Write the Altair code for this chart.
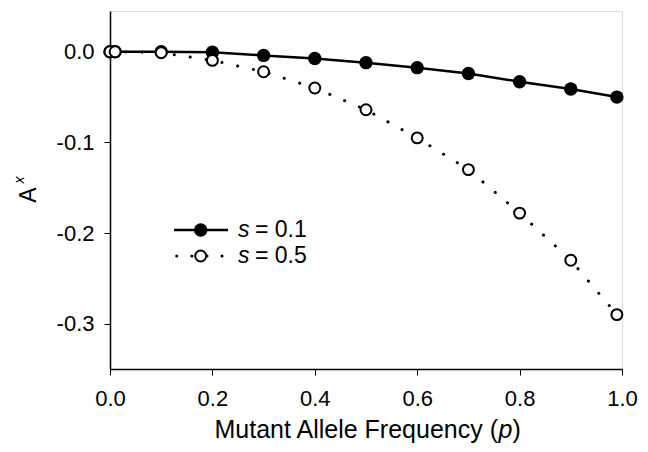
import altair as alt
import pandas as pd

p_vals = [0, 0.01, 0.1, 0.2, 0.3, 0.4, 0.5, 0.6, 0.7, 0.8, 0.9, 0.99]
a_s01 = [0, 0, 0, -0.0005, -0.004, -0.0075, -0.012, -0.0175, -0.024, -0.033, -0.041, -0.050]
a_s05 = [0, 0, -0.001, -0.0095, -0.022, -0.040, -0.064, -0.095, -0.130, -0.178, -0.230, -0.290]
x_ticks = [0.0, 0.2, 0.4, 0.6, 0.8, 1.0]
y_ticks = [0.0, -0.1, -0.2, -0.3]
legend_labels = ["= 0.1", "= 0.5"]

df1 = pd.DataFrame({"p": p_vals, "A": a_s01})
df2 = pd.DataFrame({"p": p_vals, "A": a_s05})
one = pd.DataFrame({"k": [0]})

FONT = "Liberation Sans"

xs = alt.Scale(domain=[0, 1], nice=False, zero=False)
ys = alt.Scale(domain=[-0.35, 0.045], nice=False, zero=False)

x_axis = alt.Axis(values=x_ticks, format=".1f", title=None, grid=False,
                  domainColor="black", domainWidth=1.5, tickColor="black",
                  tickSize=6, tickWidth=1, labelFontSize=22, labelFont=FONT,
                  labelColor="black", labelPadding=13, labelFlush=False)
y_axis = alt.Axis(values=y_ticks, title=None, grid=False,
                  labelExpr="datum.value == 0 ? '0.0' : '-' + format(abs(datum.value), '.1f')",
                  domainColor="black", domainWidth=1.5, tickColor="black",
                  tickSize=6, tickWidth=1, labelFontSize=22, labelFont=FONT,
                  labelColor="black", labelPadding=10)

X = alt.X("p:Q", scale=xs, axis=x_axis)
Y = alt.Y("A:Q", scale=ys, axis=y_axis)

DASH = [0.1, 16]

line1 = alt.Chart(df1).mark_line(color="black", strokeWidth=2.5).encode(x=X, y=Y)
line2 = alt.Chart(df2).mark_line(color="black", strokeWidth=3, strokeDash=DASH,
                                  strokeCap="round").encode(x="p:Q", y="A:Q")
pts1 = alt.Chart(df1).mark_point(shape="circle", filled=True, color="black", size=180,
                                 opacity=1).encode(x="p:Q", y="A:Q")
pts2 = alt.Chart(df2).mark_point(shape="circle", filled=True, fill="white", stroke="black",
                                 strokeWidth=2, size=120, opacity=1).encode(x="p:Q", y="A:Q")

# legend (decoration)
R1, R2 = 219, 245
leg = [
    alt.Chart(one).mark_rule(color="black", strokeWidth=2.5).encode(
        x=alt.value(64), x2=alt.value(118), y=alt.value(R1)),
    alt.Chart(one).mark_point(shape="circle", filled=True, color="black", size=180,
                              opacity=1).encode(x=alt.value(90.7), y=alt.value(R1)),
    alt.Chart(one).mark_rule(color="black", strokeWidth=3, strokeDash=[0.1, 15],
                             strokeCap="round").encode(
        x=alt.value(66.7), x2=alt.value(113), y=alt.value(R2)),
    alt.Chart(one).mark_point(shape="circle", filled=True, fill="white", stroke="black",
                              strokeWidth=2, size=120, opacity=1).encode(
        x=alt.value(90.7), y=alt.value(R2)),
]
for yy, lab in [(R1, legend_labels[0]), (R2, legend_labels[1])]:
    leg.append(alt.Chart(one).mark_text(text="s", font=FONT, fontSize=23, fontStyle="italic",
                                        align="left", baseline="middle", color="black").encode(
        x=alt.value(128), y=alt.value(yy)))
    leg.append(alt.Chart(one).mark_text(text=lab, font=FONT, fontSize=23,
                                        align="left", baseline="middle", color="black").encode(
        x=alt.value(145), y=alt.value(yy)))

# axis titles as text (partial italics)
XT_Y = 427
TF = 25
titles = [
    alt.Chart(one).mark_text(text="Mutant Allele Frequency (", font=FONT, fontSize=TF,
                             align="right", baseline="alphabetic", color="black").encode(
        x=alt.value(388), y=alt.value(XT_Y)),
    alt.Chart(one).mark_text(text="p", font=FONT, fontSize=TF, fontStyle="italic",
                             align="left", baseline="alphabetic", color="black").encode(
        x=alt.value(388.5), y=alt.value(XT_Y)),
    alt.Chart(one).mark_text(text=")", font=FONT, fontSize=TF,
                             align="left", baseline="alphabetic", color="black").encode(
        x=alt.value(402.5), y=alt.value(XT_Y)),
    alt.Chart(one).mark_text(text="A", font=FONT, fontSize=23, angle=270,
                             align="center", baseline="alphabetic", color="black").encode(
        x=alt.value(-74), y=alt.value(184)),
    alt.Chart(one).mark_text(text="x", font=FONT, fontSize=14, fontStyle="italic", angle=270,
                             align="center", baseline="alphabetic", color="black").encode(
        x=alt.value(-86), y=alt.value(169)),
]

chart = alt.layer(line1, line2, pts1, pts2, *leg, *titles).properties(
    width=512, height=358,
    autosize=alt.AutoSizeParams(type="none"),
    padding={"left": 102, "top": 3, "right": 18, "bottom": 75},
).configure_view(stroke="#808080", strokeWidth=1.2).configure(background="white")

chart.save("out.html", embed_options={"renderer": "svg", "actions": False})
